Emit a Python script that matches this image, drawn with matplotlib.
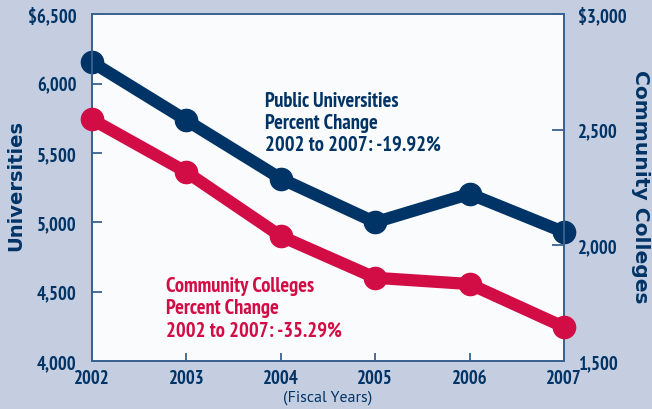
import matplotlib.pyplot as plt
from matplotlib.ticker import FuncFormatter

# average tuition, fiscal years 2002-2007
years = [2002, 2003, 2004, 2005, 2006, 2007]
universities = [6154, 5735, 5315, 5000, 5205, 4929]
community_colleges = [2545, 2317, 2040, 1860, 1833, 1647]

left_ticks = [4000, 4500, 5000, 5500, 6000, 6500]
right_ticks = [1500, 2000, 2500, 3000]

navy = '#003466'
red = '#d20c44'
spine = '#3a6290'
bg = '#c5cde0'

cond = ['PT Sans Narrow', 'Asap Condensed', 'Archivo Narrow', 'DejaVu Sans']
wide = ['PT Sans', 'Open Sans', 'DejaVu Sans']
plt.rcParams['font.family'] = cond


def dollar_fmt(top):
    def f(v, pos):
        s = f'{int(v):,}'
        return '$' + s if v == top else s
    return FuncFormatter(f)


fig = plt.figure(figsize=(6.52, 4.10), dpi=100, facecolor=bg)
ax = fig.add_axes([0.1411, 0.117, 0.7239, 0.846])
ax.set_facecolor('#fafbfd')
ax2 = ax.twinx()

ax2.plot(years, community_colleges, color=red, lw=8.8, marker='o', ms=16,
         solid_capstyle='round', solid_joinstyle='round', clip_on=False, zorder=3)
ax.plot(years, universities, color=navy, lw=8.8, marker='o', ms=16,
        solid_capstyle='round', solid_joinstyle='round', clip_on=False, zorder=3)

ax.set_xlim(2002, 2007)
ax.set_ylim(4000, 6500)
ax2.set_ylim(1500, 3000)
ax.set_xticks(years)
ax.set_yticks(left_ticks)
ax2.set_yticks(right_ticks)
ax.yaxis.set_major_formatter(dollar_fmt(6500))
ax2.yaxis.set_major_formatter(dollar_fmt(3000))

for a in (ax, ax2):
    for s in a.spines.values():
        s.set_color(spine)
        s.set_linewidth(1.3)
ax.spines['top'].set_color('#5a7ca2')

for lab in ax.get_xticklabels() + ax.get_yticklabels() + ax2.get_yticklabels():
    lab.set_fontweight('bold')

ax.tick_params(axis='x', direction='in', length=6, width=1.3, color=spine,
               labelsize=13.5, labelcolor=navy, pad=6)
ax.tick_params(axis='y', direction='in', length=7, width=1.3, color=spine,
               labelsize=13.5, labelcolor=navy, pad=11)
ax2.tick_params(axis='y', direction='in', length=9, width=1.3, color=spine,
                labelsize=13.5, labelcolor=navy, pad=10)

ax.set_xlabel('(Fiscal Years)', family=wide, fontsize=11.5, color=navy,
              va='center')
ax.xaxis.set_label_coords(0.5, -0.104)
ax.set_ylabel('Universities', family='DejaVu Sans', fontsize=14, color=navy,
              fontweight='bold', va='center')
ax.yaxis.set_label_coords(-0.162, 0.51)
ax2.set_ylabel('Community Colleges', family='DejaVu Sans', fontsize=14.6,
               color=navy, fontweight='bold', rotation=270, va='center')
ax2.yaxis.set_label_coords(1.163, 0.505)

ax.text(2003.83, 5945, 'Public Universities\nPercent Change\n2002 to 2007: -19.92%',
        color=navy, fontsize=14.8, fontweight='bold', va='top', ha='left',
        linespacing=1.2)
ax.text(2002.78, 4610, 'Community Colleges\nPercent Change\n2002 to 2007: -35.29%',
        color=red, fontsize=14.8, fontweight='bold', va='top', ha='left',
        linespacing=1.2)

fig.savefig('out.png', dpi=100, facecolor=bg)
